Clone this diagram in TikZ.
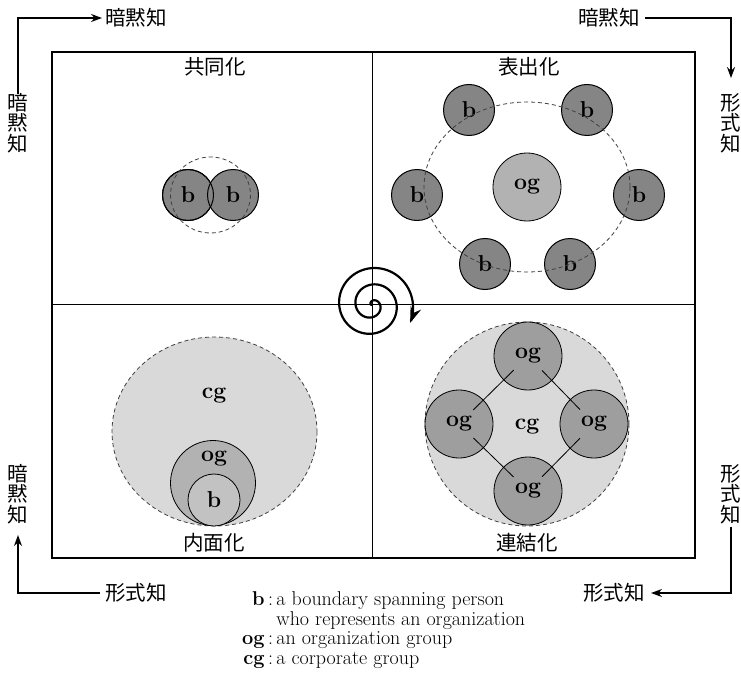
\documentclass[tikz,border=0pt]{standalone}
\usepackage{fontspec}
\newfontfamily\jp{Noto Sans CJK JP}
\usetikzlibrary{arrows.meta}

\begin{document}
\begin{tikzpicture}[x=1pt, y=-1pt,
    titolo/.style={font=\jp\fontsize{20.5}{22}\selectfont, inner sep=1pt},
    angolo/.style={font=\jp\fontsize{20.5}{20.5}\selectfont, align=center, inner sep=1pt},
    freccia/.style={line width=1.5pt, -{Stealth[length=11pt, width=8pt]}},
    cerchio/.style={circle, draw=black, line width=0.8pt, inner sep=0pt, font=\bfseries\fontsize{23}{23}\selectfont},
    bnodo/.style={cerchio, fill=\coloreB, minimum size=51pt, line width=1pt},
    ognodo/.style={cerchio, fill=\coloreOG, minimum size=68pt},
    anello/.style={draw=black!75, line width=0.8pt, dash pattern=on 4pt off 3pt},
    etichetta/.style={font=\bfseries\fontsize{23}{23}\selectfont, inner sep=0pt},
  ]
    % Definizione colori
    \def\coloreB{black!48}
    \def\coloreOG{black!30}
    \def\coloreCG{black!15}
    \def\coloreOGc{black!38}
    \def\coloreBi{black!24}

    \useasboundingbox (0,0) rectangle (741,690);

    % Quadranti
    \draw[line width=1.2pt] (52,52) rectangle (695,558);
    \draw[line width=1pt] (372,52) -- (372,558);
    \draw[line width=1pt] (52,304) -- (695,304);

    % Titoli
    \node[titolo] (soc) at (215,67) {共同化};
    \node[titolo] (est) at (529,67) {表出化};
    \node[titolo] (int) at (214,543) {内面化};
    \node[titolo] (com) at (527,543) {連結化};

    % Angoli con frecce
    \node[angolo] (tlv) at (18,123) {暗\\黙\\知};
    \node[angolo, anchor=west] (tlh) at (104,18) {暗黙知};
    \draw[freccia, shorten <=-2pt, shorten >=2pt] (tlv.north) |- (tlh.west);

    \node[angolo] (trv) at (731,123) {形\\式\\知};
    \node[angolo, anchor=east] (trh) at (641,18) {暗黙知};
    \draw[freccia, shorten <=4pt, shorten >=14pt] (trh.east) -| (trv.north);

    \node[angolo] (blv) at (18,494) {暗\\黙\\知};
    \node[angolo, anchor=west] (blh) at (104,593) {形式知};
    \draw[freccia, shorten <=4pt, shorten >=10pt] (blh.west) -| (blv.south);

    \node[angolo] (brv) at (731,494) {形\\式\\知};
    \node[angolo, anchor=east] (brh) at (646,593) {形式知};
    \draw[freccia, shorten <=2pt, shorten >=5pt] (brv.south) |- (brh.east);

    % Socializzazione
    \node[bnodo] (bs1) at (188,195) {b};
    \node[bnodo] (bs2) at (233,195) {b};
    \draw[line width=1pt] (bs1.center) circle (25.5);
    \draw[anello] (210.5,195) ellipse (40 and 38);

    % Esternalizzazione
    \node[ognodo] (oge) at (527,187) {og};
    \node[bnodo] (be1) at (469,110) {b};
    \node[bnodo] (be2) at (587,110) {b};
    \node[bnodo] (be3) at (417,195) {b};
    \node[bnodo] (be4) at (639,195) {b};
    \node[bnodo] (be5) at (485,264) {b};
    \node[bnodo] (be6) at (570,264) {b};
    \draw[anello] (527,187) ellipse (103 and 85);

    % Internalizzazione
    \draw[anello, fill=\coloreCG] (214.5,431.5) ellipse (102.5 and 94.5);
    \node[etichetta] (cgi) at (214,396) {cg};
    \node[cerchio, fill=\coloreOG, minimum size=85pt] (ogi) at (213,483) {};
    \node[etichetta] (ogil) at (214,459) {og};
    \node[cerchio, fill=\coloreBi, minimum size=52pt] (bi) at (214,500) {b};

    % Combinazione
    \draw[anello, fill=\coloreCG] (527,424) circle (102);
    \node[ognodo, fill=\coloreOGc] (ogc1) at (528,356) {og};
    \node[ognodo, fill=\coloreOGc] (ogc2) at (459,424) {og};
    \node[ognodo, fill=\coloreOGc] (ogc3) at (594,424) {og};
    \node[ognodo, fill=\coloreOGc] (ogc4) at (528,491) {og};
    \node[etichetta] (cgc) at (527,427) {cg};
    \foreach \a/\b in {ogc1/ogc2, ogc1/ogc3, ogc2/ogc4, ogc3/ogc4}
      \draw[line width=0.8pt, shorten <=20pt, shorten >=20pt] (\a.center) -- (\b.center);

    % Spirale
    \coordinate (spir) at (372,305);
    \draw[line width=2.2pt, -{Stealth[length=16pt, width=11pt]}]
      plot[domain=0:925, samples=300, smooth]
      ({372+(\x/900)*41*cos(\x+180)}, {305+(\x/900)*41*sin(\x+180)});

    % Legenda
    \node[anchor=west, inner sep=0pt, font=\fontsize{20}{19.5}\selectfont] (leg) at (242,631) {%
      \begin{tabular}{@{}r@{}l@{}}
        \textbf{b}\,:\, & a boundary spanning person\\
                        & who represents an organization\\
        \textbf{og}\,:\, & an organization group\\
        \textbf{cg}\,:\, & a corporate group
      \end{tabular}};
\end{tikzpicture}
\end{document}
